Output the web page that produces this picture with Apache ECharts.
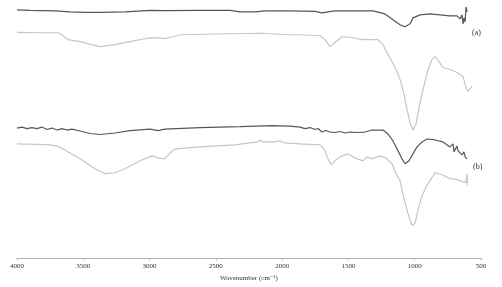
<!DOCTYPE html>
<html>
<head>
<meta charset="utf-8">
<script src="https://cdn.jsdelivr.net/npm/echarts@6/dist/echarts.min.js"></script>
<style>html,body{margin:0;padding:0;background:#fff}#c{width:502px;height:287px}</style>
</head>
<body>
<div id="c"></div>
<script>
// Wavenumber axis ticks
const xTicks = [4000, 3500, 3000, 2500, 2000, 1500, 1000, 500];
const xTitle = 'Wavenumber (cm\u207B\u00B9)';
const labelA = '(a)';
const labelB = '(b)';

// Curve (a) dark
const wnA1 = [4000,3902,3713,3600,3487,3374,3185,2997,2884,2620,2393,2318,2205,2129,1941,1752,1699,1654,1601,1488,1315,1224,1164,1111,1073,1035,1013,960,885,809,734,681,658,643,635,628,620,613,605];
const tA1  = [250,249.5,249,248,247.5,247.5,248,249.5,249.3,249.5,249.5,248,248,249,249,248.5,247,248,249,249,249,246,240,235,233,236,242,245,246,245,244,244,241,245,236,242,238,253,248];
// Curve (a) light
const wnA2 = [4000,3827,3691,3653,3615,3525,3374,3261,3110,2997,2921,2884,2770,2393,2152,1978,1865,1714,1677,1639,1594,1548,1488,1390,1277,1239,1209,1171,1134,1111,1081,1058,1035,1013,990,967,937,900,869,847,817,787,734,681,636,613,598,568];
const tA2  = [227.3,227,227,224,220,218,213,215,219,222,221.5,221,225,226,226.5,225,225,224,220,213,218,223,222.5,220,220,215,207,198,188,180,165,150,136,129,135,152,170,190,200,203,198,192,190,187,183,172,168,173];
// Curve (b) dark
const wnB1 = [4000,3962,3925,3887,3849,3811,3774,3736,3698,3661,3623,3585,3525,3449,3374,3261,3148,2997,2936,2884,2620,2318,2077,1941,1865,1828,1790,1752,1729,1699,1669,1639,1601,1564,1526,1488,1435,1375,1322,1239,1202,1164,1126,1096,1073,1043,1013,983,945,907,847,787,734,719,711,704,681,673,658,643,628,620,605];
const tB1  = [131,132,130.5,131.5,130.5,132,129.5,131,129,130.5,129,130,128,125.5,124.5,126,128.5,130,128.5,130,131.5,132.5,133.5,133,132,130.5,131.5,129.5,130.5,127,128.5,127,126.5,127.5,126,127,126.5,127,129,129,125,118,108,100,95,98,105,112,117,120,119,117,112,111,115,107,113,108,110,104,107,102,100];
// Curve (b) light
const wnB2 = [4000,3864,3751,3691,3638,3525,3412,3336,3261,3185,3072,2982,2936,2884,2846,2808,2620,2356,2243,2183,2167,2144,2054,2016,1978,1865,1714,1684,1654,1631,1594,1548,1503,1465,1435,1390,1360,1322,1262,1217,1171,1141,1111,1081,1051,1021,998,975,952,915,885,847,794,734,681,636,613,605,602];
const tB2  = [115,114.5,114,112.5,109,100,90,85,86,90,98,103,101,100,106,110,112,114,116,117,119,117,117,118,116,115,114,110,100,94,99,103,105,102,100,98,102,100,103,101,95,85,78,60,45,33,35,48,60,72,78,86,84,80,79,77,76,85,73];

const zip = (a, b) => a.map((v, i) => [v, b[i]]);
const dark = '#575757';
const light = '#c6c6c6';
const serif = '"Liberation Serif", "DejaVu Serif", serif';

const chart = echarts.init(document.getElementById('c'), null, {renderer: 'canvas'});
const mk = (name, data, color) => ({
  name, type: 'line', data, showSymbol: false, symbol: 'none',
  lineStyle: {color, width: 1.2}, animation: false, silent: true
});
chart.setOption({
  animation: false,
  backgroundColor: '#fff',
  grid: {left: 17, right: 21, top: 0, bottom: 27, containLabel: false},
  xAxis: {
    type: 'value', min: 500, max: 4000, interval: 500, inverse: true,
    name: xTitle, nameLocation: 'middle', nameGap: 16,
    nameTextStyle: {fontFamily: serif, fontSize: 7, color: '#333'},
    axisLine: {lineStyle: {color: '#b0b0b0', width: 1}},
    axisTick: {show: true, length: 2, lineStyle: {color: '#b0b0b0'}},
    axisLabel: {fontFamily: serif, fontSize: 7, color: '#333', margin: 5,
      formatter: v => xTicks.includes(v) ? String(v) : ''},
    splitLine: {show: false}
  },
  yAxis: {type: 'value', min: 0, max: 260, show: false, splitLine: {show: false}},
  series: [
    mk('a-dark', zip(wnA1, tA1), dark),
    mk('a-light', zip(wnA2, tA2), light),
    mk('b-dark', zip(wnB1, tB1), dark),
    mk('b-light', zip(wnB2, tB2), light)
  ],
  graphic: [
    {type: 'text', left: 472, top: 29, style: {text: labelA, font: '8px ' + serif, fill: '#333'}},
    {type: 'text', left: 473, top: 163, style: {text: labelB, font: '8px ' + serif, fill: '#333'}}
  ]
});
</script>
</body>
</html>
